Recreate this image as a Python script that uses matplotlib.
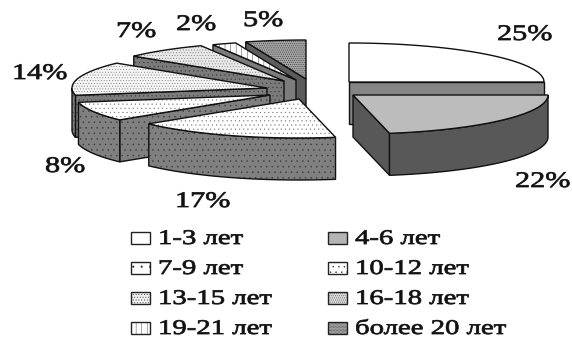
import numpy as np
import matplotlib
matplotlib.use("Agg")
import matplotlib.pyplot as plt
from matplotlib.patches import Polygon, Rectangle
from matplotlib.patheffects import AbstractPathEffect
from matplotlib.transforms import Affine2D

# Work experience shares
categories = ["1-3 лет", "4-6 лет", "7-9 лет", "10-12 лет",
              "13-15 лет", "16-18 лет", "19-21 лет", "более 20 лет"]
shares = [25, 22, 17, 8, 14, 7, 2, 5]

# Exploded slice centres and projected pie geometry, in pixels
centres = [(349, 82), (353, 95), (299, 99), (270, 95),
           (267, 88), (284, 81), (296, 80), (306, 79)]
RX, RY, DEPTH = 195, 39, 42

top_colors = ["#ffffff", "#bcbcbc", "#ffffff", "#ffffff",
              "#f4f4f4", "#e8e8e8", "#ffffff", "#a4a4a4"]
wall_colors = ["#858585", "#585858", "#808080", "#808080",
               "#7c7c7c", "#7a7a7a", "#7c7c7c", "#5c5c5c"]
top_hatches = [None, None, "....", "....", "......", "......", "|||", "........"]
wall_hatches = [None, None, "...", "...", "....", "....", None, None]
swatch_hatches = [None, None, "..", "...", "......", "........", "|||", "............"]
swatch_colors = ["#ffffff", "#b4b4b4", "#ffffff", "#ffffff",
                 "#f0f0f0", "#dcdcdc", "#ffffff", "#a8a8a8"]

# Percent labels: left edge and baseline in pixels
label_pos = [(497, 40), (515, 187), (175, 207), (45, 172),
             (12, 79), (116, 37), (176, 30), (243, 26)]

# Two-column legend layout
legend_rows = [244, 274, 304, 334]
legend_swatch_x = [131, 328]
legend_text_x = [158, 355]

plt.rcParams["font.family"] = ["Liberation Serif", "DejaVu Serif"]
plt.rcParams["hatch.linewidth"] = 0.3


class WideText(AbstractPathEffect):
    """Widen glyphs horizontally and thicken them slightly."""

    def __init__(self, sx, stroke=0.55):
        super().__init__()
        self.sx = sx
        self.stroke = stroke

    def draw_path(self, renderer, gc, tpath, affine, rgbFace=None):
        gc0 = renderer.new_gc()
        gc0.copy_properties(gc)
        gc0.set_linewidth(self.stroke)
        gc0.set_foreground(rgbFace if rgbFace is not None else "k")
        renderer.draw_path(gc0, tpath, Affine2D().scale(self.sx, 1) + affine, rgbFace)
        gc0.restore()


fig = plt.figure(figsize=(5.72, 3.38), dpi=100)
ax = fig.add_axes([0, 0, 1, 1])
ax.set_xlim(0, 572)
ax.set_ylim(338, 0)
ax.axis("off")


def rim(c, t):
    return c[0] + RX * np.sin(t), c[1] - RY * np.cos(t)


def add_poly(pts, face, hatch, z, hatch_color):
    # hatch and outline are separate patches so the dots can stay paler than the edge
    ax.add_patch(Polygon(pts, closed=True, facecolor=face, edgecolor=hatch_color,
                         linewidth=0, hatch=hatch, zorder=z))
    ax.add_patch(Polygon(pts, closed=True, fill=False, edgecolor="#111111",
                         linewidth=1.0, zorder=z))


def draw_slice(i, t0, t1, z):
    c = centres[i]
    s0, s1 = rim(c, t0), rim(c, t1)
    below = lambda p: (p[0], p[1] + DEPTH)
    dots = "#3a3a3a"
    # cut faces turned towards the viewer
    if t1 < np.pi:
        add_poly([c, s1, below(s1), below(c)], wall_colors[i], wall_hatches[i], z, dots)
    if t0 > np.pi:
        add_poly([c, s0, below(s0), below(c)], wall_colors[i], wall_hatches[i], z, dots)
    # outer wall on the front half of the rim
    a, b = max(t0, np.pi / 2), min(t1, 3 * np.pi / 2)
    if b > a:
        ts = np.linspace(a, b, 60)
        upper = [rim(c, t) for t in ts]
        lower = [below(p) for p in upper[::-1]]
        add_poly(upper + lower, wall_colors[i], wall_hatches[i], z, dots)
    # top surface
    ts = np.linspace(t0, t1, 80)
    top_ink = "#222222" if i in (6, 7) else "#777777"
    add_poly([c] + [rim(c, t) for t in ts], top_colors[i], top_hatches[i], z, top_ink)


edges = np.cumsum([0] + shares) / sum(shares) * 2 * np.pi
# paint order runs from the back of the pie to the front
order = [7, 6, 5, 4, 3, 2, 0, 1]
for z, i in enumerate(order):
    draw_slice(i, edges[i], edges[i + 1], z + 1)

for value, (x, y) in zip(shares, label_pos):
    ax.text(x, y, f"{value}%", fontsize=16, ha="left", va="baseline",
            color="#111111", path_effects=[WideText(1.36)], zorder=20)

for k, name in enumerate(categories):
    col, row = k % 2, k // 2
    base = legend_rows[row]
    ax.add_patch(Rectangle((legend_swatch_x[col], base - 12), 19, 12,
                           facecolor=swatch_colors[k], edgecolor="#333333",
                           linewidth=0, hatch=swatch_hatches[k], zorder=20))
    ax.add_patch(Rectangle((legend_swatch_x[col], base - 12), 19, 12, fill=False,
                           edgecolor="#222222", linewidth=1.0, zorder=20))
    ax.text(legend_text_x[col], base, name, fontsize=15, ha="left", va="baseline",
            color="#111111", path_effects=[WideText(1.38)], zorder=20)

fig.savefig("out.png", dpi=100)
